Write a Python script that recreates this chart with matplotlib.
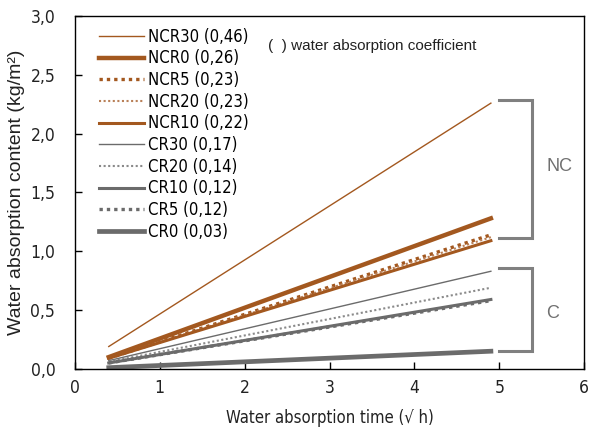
import matplotlib
matplotlib.use("Agg")
import matplotlib.pyplot as plt
from matplotlib.ticker import FuncFormatter

# series: start/end of each straight absorption line
names = ["NCR30", "NCR0", "NCR5", "NCR20", "NCR10",
         "CR30", "CR20", "CR10", "CR5", "CR0"]
coefs = ["0,46", "0,26", "0,23", "0,23", "0,22",
         "0,17", "0,14", "0,12", "0,12", "0,03"]
t_start = [0.4] * 10
t_end = [4.9] * 10
w_start = [0.19, 0.10, 0.09, 0.09, 0.09, 0.07, 0.06, 0.05, 0.05, 0.01]
w_end = [2.26, 1.28, 1.14, 1.12, 1.09, 0.83, 0.69, 0.59, 0.58, 0.15]

brown = "#A3581F"
gray = "#6B6B6B"
styles = [
    dict(color=brown, lw=1.0, ls="-"),
    dict(color=brown, lw=3.2, ls="-"),
    dict(color=brown, lw=2.4, ls=(0, (1, 1.2))),
    dict(color="#B98058", lw=1.5, ls=(0, (1, 1.2))),
    dict(color=brown, lw=2.2, ls="-"),
    dict(color=gray, lw=1.0, ls="-"),
    dict(color="#8A8A8A", lw=1.5, ls=(0, (1, 1.2))),
    dict(color=gray, lw=2.2, ls="-"),
    dict(color=gray, lw=2.4, ls=(0, (1, 1.2))),
    dict(color=gray, lw=3.4, ls="-"),
]

narrow = dict(family="DejaVu Sans", stretch="condensed")
regular = ["Liberation Sans", "DejaVu Sans"]

fig = plt.figure(figsize=(5.89, 4.36), dpi=100)
ax = fig.add_axes([0.127, 0.154, 0.865, 0.809])

for i in range(len(names)):
    ax.plot([t_start[i], t_end[i]], [w_start[i], w_end[i]],
            label=f"{names[i]} ({coefs[i]})", **styles[i])

ax.set_xlim(0, 6)
ax.set_ylim(0, 3)
ax.set_xticks(range(7))
ax.set_yticks([0, 0.5, 1.0, 1.5, 2.0, 2.5, 3.0])
ax.yaxis.set_major_formatter(FuncFormatter(lambda v, p: f"{v:.1f}".replace(".", ",")))
ax.tick_params(direction="in", length=5, width=1, labelsize=12.5)
ax.tick_params(axis="y", pad=14)
ax.tick_params(axis="x", pad=7)
for lab in ax.get_xticklabels() + ax.get_yticklabels():
    lab.set_family(narrow["family"])
    lab.set_stretch(narrow["stretch"])
    lab.set_color("#222222")
for s in ax.spines.values():
    s.set_linewidth(1.0)

ax.set_xlabel("Water absorption time (\u221a h)", fontsize=12,
              color="#222222", labelpad=9, **narrow)
ax.set_ylabel("Water absorption content (kg/m\u00b2)", family=regular,
              fontsize=14, color="#222222", labelpad=4)

leg = ax.legend(loc="upper left", frameon=False,
                prop={"family": narrow["family"], "stretch": narrow["stretch"], "size": 12},
                handlelength=2.7, handletextpad=0.2, labelspacing=0.22,
                borderaxespad=0.3, bbox_to_anchor=(0.025, 1.0))

ax.text(2.28, 2.75, "(  ) water absorption coefficient", family=regular,
        fontsize=11, color="#222222", va="center")

# brackets grouping the mixes
bc = "#808080"
for y0, y1, lab, ty in [(1.11, 2.29, "NC", 1.72), (0.15, 0.86, "C", 0.47)]:
    ax.plot([5.0, 5.38, 5.38, 5.0], [y1, y1, y0, y0], color=bc, lw=2.2,
            solid_joinstyle="miter")
    ax.text(5.55, ty, lab, family=regular, fontsize=13, color="#707070",
            va="center")

fig.savefig("out.png", dpi=100)
